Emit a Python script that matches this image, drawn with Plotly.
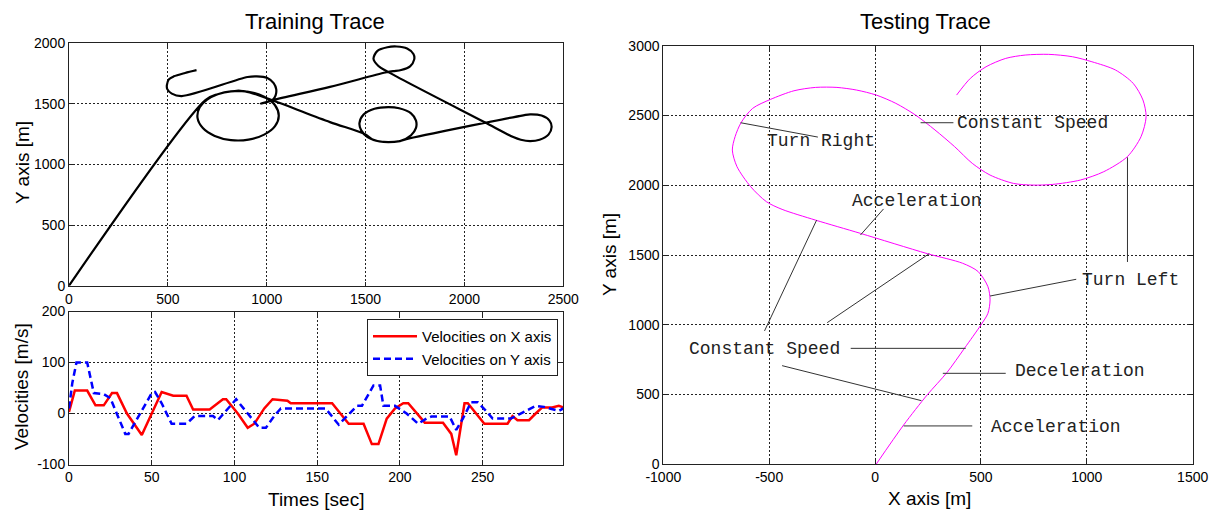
import plotly.graph_objects as go

# The page places the figure 8 px from the top-left corner, so the figure is
# drawn 8 px smaller and every reference pixel position is shifted by 8 px.
OFF = 8
W, H = 1217 - OFF, 513 - OFF

# ---------------- data ----------------
# Training trace (metres)
train_x = [0, 690, 752, 819, 908, 987, 1042, 1061, 1042, 987, 908, 819, 737, 677, 650, 661, 697, 752, 819, 891,
           1028, 1320, 1495, 1540, 1615, 1674, 1730, 1755, 1755, 1730, 1670, 1615, 1545, 1490, 1469, 1478, 1510,
           1560, 1615, 1674, 1706, 2298, 2332, 2390, 2430, 2441, 2425, 2380, 2332, 2285, 2247, 2100, 1615, 1565,
           1540, 1560, 1610, 1657, 1710, 1742, 1746, 1725, 1680, 1640, 1600, 1320, 1028, 970, 1030, 1045, 1048,
           1035, 1003, 950, 903, 570, 520, 497, 495, 505, 530, 587, 645]
train_y = [0, 1530, 1578, 1602, 1598, 1557, 1487, 1401, 1315, 1245, 1204, 1200, 1234, 1299, 1383, 1471, 1532, 1578,
           1602, 1602, 1528, 1348, 1250, 1200, 1183, 1192, 1240, 1300, 1360, 1420, 1462, 1472, 1458, 1410, 1340,
           1280, 1225, 1192, 1183, 1192, 1208, 1404, 1412, 1402, 1360, 1308, 1245, 1203, 1192, 1203, 1225, 1349,
           1760, 1810, 1870, 1935, 1965, 1971, 1955, 1910, 1865, 1808, 1778, 1768, 1757, 1638, 1528, 1500, 1532,
           1569, 1620, 1670, 1712, 1725, 1720, 1563, 1583, 1620, 1652, 1700, 1725, 1753, 1776]

# Velocities
time_vx = [0, 3.5, 11, 16, 21, 26, 29, 35, 44, 50, 56, 63, 71, 75, 85, 93, 95, 102, 108, 112, 118, 123, 132, 134,
           159, 164, 169, 178, 183, 187, 192, 197, 202, 205, 210, 215, 226, 231, 234, 236, 239, 241, 246, 251, 265,
           268, 271, 278, 282, 286, 292, 296, 298.7]
vel_x = [3, 45, 45, 16, 16, 40, 40, 0, -42, 0, 42, 35, 35, 8, 8, 28, 28, 0, -28, -20, 10, 28, 25, 20,
         20, 0, -20, -20, -60, -60, -10, 10, 20, 20, 0, -18, -18, -40, -82, -40, 20, 20, 0, -20, -20,
         -5, -13, -13, 0, 12, 12, 15, 12]
time_vy = [0, 2, 4.5, 11, 15, 21, 25, 34, 36, 43, 50, 52, 56, 62, 71, 76, 87, 90, 95, 101, 108, 115, 119, 124,
           128, 155, 160, 163, 168, 174, 177, 184, 188, 190, 197, 204, 211, 216, 219, 230, 234, 238, 243, 247,
           252, 256, 267, 270, 276, 282, 287, 292, 296, 298.7]
vel_y = [10, 60, 100, 100, 40, 38, 30, -40, -40, 0, 40, 42, 20, -20, -20, -5, -5, -13, 5, 28, 0, -28, -28, -5,
         10, 10, -10, -22, -5, 15, 15, 55, 55, 15, 15, 0, -20, -10, -6, -6, -32, -10, 22, 22,
         5, -10, -10, -5, 5, 15, 13, 8, 5, 10]

# Testing trace (metres)
test_x = [5, 135, 246, 339, 422, 500, 533, 543, 533, 487, 413, 246, -69, -281, -439, -513, -587, -652, -674, -661,
          -633, -578, -494, -383, -281, -180, -87, 6, 98, 191, 283, 376, 459, 543, 654, 746, 839, 969, 1080, 1191,
          1256, 1280, 1265, 1219, 1135, 1024, 932, 820, 709, 617, 524, 450, 385]
test_y = [0, 282, 497, 657, 831, 999, 1082, 1178, 1273, 1381, 1441, 1510, 1655, 1750, 1827, 1882, 1989, 2133, 2252,
          2348, 2448, 2551, 2615, 2677, 2701, 2701, 2682, 2646, 2587, 2503, 2396, 2276, 2157, 2073, 2013, 2001,
          2006, 2037, 2097, 2204, 2348, 2491, 2611, 2730, 2826, 2885, 2921, 2938, 2933, 2909, 2849, 2766, 2646]

label_text = ["Turn Right", "Constant Speed", "Acceleration", "Turn Left",
              "Constant Speed", "Deceleration", "Acceleration"]
label_x = [-520, 377, -118, 968, -888, 651, 538]
label_y = [2317, 2446, 1887, 1321, 827, 669, 267]

leader_x0 = [-635, 215, 40, 1192, 950, -522, -226, -115, -439, 320, 135]
leader_y0 = [2448, 2448, 1830, 2200, 1326, 956, 1015, 831, 707, 652, 275]
leader_x1 = [-270, 370, -69, 1192, 543, -276, 256, 428, 219, 617, 459]
leader_y1 = [2345, 2448, 1643, 1450, 1206, 1750, 1510, 831, 456, 652, 275]

train_xticks = [0, 500, 1000, 1500, 2000, 2500]
train_yticks = [0, 500, 1000, 1500, 2000]
vel_tticks = [0, 50, 100, 150, 200, 250]
vel_vticks = [-100, 0, 100, 200]
vel_vtext = ["-100", "0", "100", "200"]
test_xticks = [-1000, -500, 0, 500, 1000, 1500]
test_xtext = ["-1000", "-500", "0", "500", "1000", "1500"]
test_yticks = [0, 500, 1000, 1500, 2000, 2500, 3000]

# ---------------- figure ----------------
SANS = "Liberation Sans, Arial, sans-serif"
MONO = "Liberation Mono, Courier New, monospace"

fig = go.Figure()
fig.add_trace(go.Scatter(x=train_x, y=train_y, mode="lines", line=dict(color="black", width=2.2, shape="spline", smoothing=0.9),
                         showlegend=False, xaxis="x", yaxis="y"))
fig.add_trace(go.Scatter(x=time_vx, y=vel_x, mode="lines", name="Velocities on X axis",
                         line=dict(color="#ff0000", width=2.5), xaxis="x2", yaxis="y2"))
fig.add_trace(go.Scatter(x=time_vy, y=vel_y, mode="lines", name="Velocities on Y axis",
                         line=dict(color="#0000ff", width=2.5, dash="7px,4px"), xaxis="x2", yaxis="y2"))
fig.add_trace(go.Scatter(x=test_x, y=test_y, mode="lines", line=dict(color="#ff00ff", width=1, shape="spline", smoothing=0.8),
                         showlegend=False, xaxis="x3", yaxis="y3"))


def px_x(p):
    return (p - OFF) / W


def px_y(p):
    return 1 - (p - OFF) / H


axis_common = dict(showline=True, linecolor="#222", linewidth=1, mirror="ticks", ticks="inside", ticklen=4,
                   tickcolor="#222", showgrid=True, gridcolor="#222", gridwidth=1, griddash="2px,2px",
                   zeroline=False, automargin=False, tickfont=dict(family=SANS, size=14, color="black"))

fig.update_layout(
    width=W, height=H, autosize=False, paper_bgcolor="white", plot_bgcolor="white",
    margin=dict(l=0, r=0, t=0, b=0, autoexpand=False),
    xaxis=dict(domain=[px_x(69), px_x(563.3)], range=[0, 2500], tickvals=train_xticks, anchor="y", **axis_common),
    yaxis=dict(domain=[px_y(285.7), px_y(43)], range=[0, 2000], tickvals=train_yticks, anchor="x", **axis_common),
    xaxis2=dict(domain=[px_x(69), px_x(563.3)], range=[0, 298.7], tickvals=vel_tticks, anchor="y2", **axis_common),
    yaxis2=dict(domain=[px_y(464.5), px_y(311.5)], range=[-100, 200], tickvals=vel_vticks, ticktext=vel_vtext,
                anchor="x2", **axis_common),
    xaxis3=dict(domain=[px_x(663.3), px_x(1192.7)], range=[-1000, 1500], tickvals=test_xticks, ticktext=test_xtext,
                anchor="y3", **axis_common),
    yaxis3=dict(domain=[px_y(464.3), px_y(45.7)], range=[0, 3000], tickvals=test_yticks, anchor="x3", **axis_common),
    legend=dict(x=px_x(558), y=px_y(319), xanchor="right", yanchor="top", bgcolor="white", bordercolor="#222",
                borderwidth=1, itemwidth=44, font=dict(family=SANS, size=15, color="black"), tracegroupgap=0),
)

titles = [
    ("Training Trace", 315, 21, 22, 0),
    ("Testing Trace", 925, 21, 22, 0),
    ("Y axis [m]", 22, 163, 19, -90),
    ("Velocities [m/s]", 21, 387, 19, -90),
    ("Times [sec]", 316, 499, 19, 0),
    ("X axis [m]", 929, 498, 19, 0),
    ("Y axis [m]", 609, 255, 19, -90),
]
for text, x, y, size, ang in titles:
    fig.add_annotation(text=text, x=px_x(x), y=px_y(y), xref="paper", yref="paper", showarrow=False,
                       xanchor="center", yanchor="middle", textangle=ang,
                       font=dict(family=SANS, size=size, color="black"))

for x0, y0, x1, y1 in zip(leader_x0, leader_y0, leader_x1, leader_y1):
    fig.add_shape(type="line", x0=x0, y0=y0, x1=x1, y1=y1, xref="x3", yref="y3",
                  line=dict(color="#333", width=1))

for text, x, y in zip(label_text, label_x, label_y):
    fig.add_annotation(text=text, x=x, y=y, xref="x3", yref="y3", showarrow=False, xanchor="left",
                       yanchor="middle", font=dict(family=MONO, size=18, color="#222"))

fig.write_html("out.html")
